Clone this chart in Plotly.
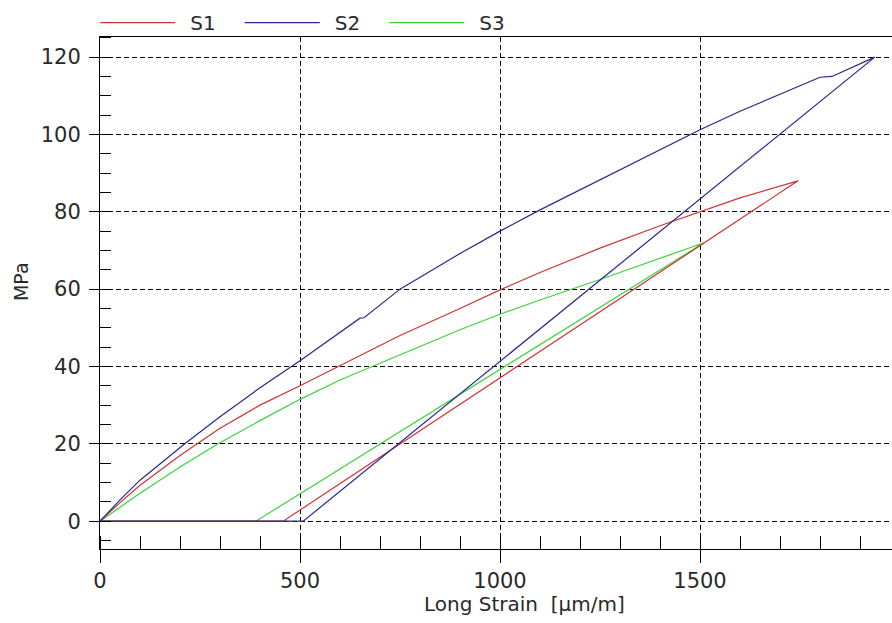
import plotly.graph_objects as go

# ---- data ----
s1_load_x = [0, 50, 100, 200, 300, 400, 500, 600, 750, 900, 1000, 1100, 1250, 1400, 1500, 1600, 1745]
s1_load_y = [0, 4.8, 9.3, 17, 24, 30, 35, 40.2, 48, 55, 59.8, 64.3, 70.6, 76.4, 80, 83.6, 88]
s1_unload_x = [1745, 458, 0]
s1_unload_y = [88, 0, 0]

s2_load_x = [0, 50, 100, 212, 300, 400, 500, 600, 650, 660, 750, 900, 1000, 1100, 1250, 1400, 1500, 1600, 1700, 1800, 1830, 1937]
s2_load_y = [0, 5.5, 10.6, 20, 27, 34.5, 41.5, 48.8, 52.5, 52.6, 60, 69.2, 75, 80.5, 88.2, 96, 101.2, 106, 110.5, 114.8, 115, 120]
s2_unload_x = [1937, 508, 0]
s2_unload_y = [120, 0, 0]

s3_load_x = [0, 50, 100, 200, 295, 400, 500, 600, 750, 900, 1000, 1100, 1250, 1400, 1510]
s3_load_y = [0, 3.7, 7.2, 14, 20, 26, 31.5, 36.5, 43, 49.5, 53.5, 57.2, 62.5, 67.9, 72]
s3_unload_x = [1510, 390, 0]
s3_unload_y = [72, 0, 0]

series_names = ["S1", "S2", "S3"]
colors = {"S1": "#cf3333", "S2": "#27278f", "S3": "#3ad43a"}

x_ticks = [0, 500, 1000, 1500]
y_ticks = [0, 20, 40, 60, 80, 100, 120]
x_title = "Long Strain\u00a0\u00a0[µm/m]"
y_title = "MPa"

data = {
    "S1": (s1_load_x + s1_unload_x[1:], s1_load_y + s1_unload_y[1:]),
    "S2": (s2_load_x + s2_unload_x[1:], s2_load_y + s2_unload_y[1:]),
    "S3": (s3_load_x + s3_unload_x[1:], s3_load_y + s3_unload_y[1:]),
}

fig = go.Figure()
rank = {"S1": 1, "S2": 2, "S3": 3}
for name in ["S3", "S1", "S2"]:
    xs, ys = data[name]
    fig.add_trace(go.Scatter(
        x=xs, y=ys, mode="lines", name="\u2002" + name + "\u00a0\u00a0\u00a0",
        legendrank=rank[name],
        line=dict(color=colors[name], width=1.2),
    ))

font_family = "DejaVu Sans, Verdana, sans-serif"
txt_color = "#2a2a2a"
axis_common = dict(
    showline=True, linecolor="black", linewidth=1,
    showgrid=True, gridcolor="black", gridwidth=1, griddash="5px,3px",
    zeroline=False, ticks="outside", tickcolor="black", tickwidth=1,
    tickfont=dict(family=font_family, size=21, color=txt_color),
    automargin=False,
)

fig.update_layout(
    width=892, height=623,
    margin=dict(l=100, r=0, t=37, b=74),
    paper_bgcolor="white", plot_bgcolor="white",
    font=dict(family=font_family, size=20, color=txt_color),
    showlegend=True,
    legend=dict(orientation="h", x=-0.006, y=0.99, xanchor="left", yanchor="bottom",
                itemwidth=75,
                font=dict(family=font_family, size=20, color=txt_color),
                bgcolor="rgba(0,0,0,0)", traceorder="normal", itemclick=False),
    xaxis=dict(
        range=[0, 1980], tickvals=x_ticks, mirror=True, ticklen=13,
        minor=dict(dtick=100, tick0=0, ticks="inside", ticklen=13, tickcolor="black", showgrid=False),
        **axis_common,
    ),
    yaxis=dict(
        range=[-7.2, 125.2], tickvals=y_ticks, ticklen=10,
        minor=dict(dtick=5, tick0=0, ticks="inside", ticklen=11, tickcolor="black", showgrid=False),
        ticklabelstandoff=4,
        **axis_common,
    ),
    annotations=[
        dict(text=x_title, xref="paper", yref="paper", x=0.5366, y=-0.107,
             xanchor="center", yanchor="middle", showarrow=False,
             font=dict(family=font_family, size=20, color=txt_color)),
        dict(text=y_title, xref="paper", yref="paper", x=-0.0997, y=0.5215,
             xanchor="center", yanchor="middle", showarrow=False, textangle=-90,
             font=dict(family=font_family, size=19, color=txt_color)),
    ],
)

fig.write_html("out.html")
